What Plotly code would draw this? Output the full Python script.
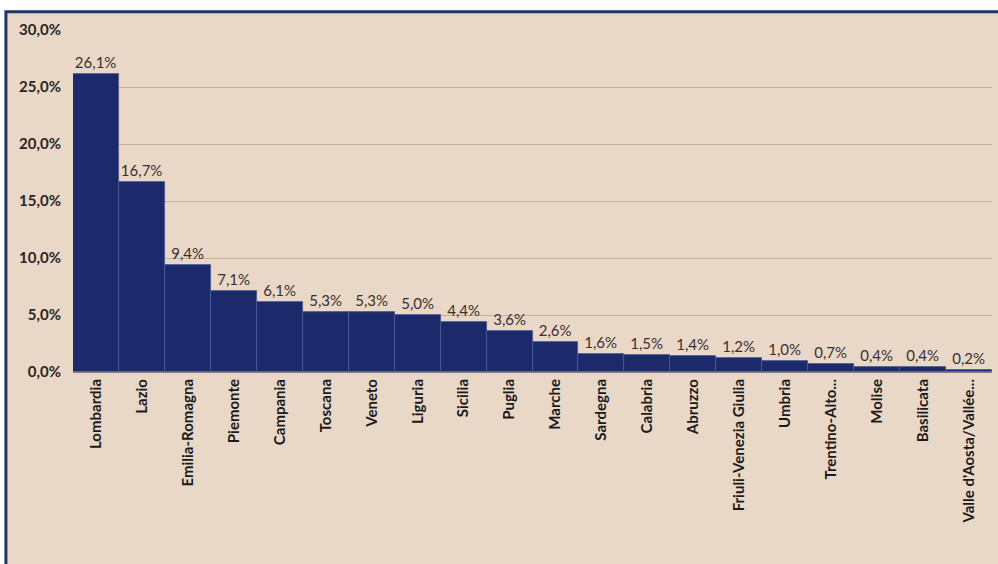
import plotly.graph_objects as go

regions = ["Lombardia", "Lazio", "Emilia-Romagna", "Piemonte", "Campania", "Toscana",
           "Veneto", "Liguria", "Sicilia", "Puglia", "Marche", "Sardegna", "Calabria",
           "Abruzzo", "Friuli-Venezia Giulia", "Umbria", "Trentino-Alto...", "Molise",
           "Basilicata", "Valle d'Aosta/Vallée..."]
shares = [0.261, 0.167, 0.094, 0.071, 0.061, 0.053, 0.053, 0.050, 0.044, 0.036, 0.026,
          0.016, 0.015, 0.014, 0.012, 0.010, 0.007, 0.004, 0.004, 0.002]
y_ticks = [0, 0.05, 0.10, 0.15, 0.20, 0.25, 0.30]

BG = "#e9d7c7"
NAVY = "#1c2a6b"
FONT = "Lato"

fig = go.Figure()
fig.add_trace(go.Bar(
    x=regions, y=shares,
    marker=dict(color=NAVY, line=dict(color="#4a5a9a", width=0.8)),
    texttemplate="%{y:.1%}", textposition="outside", cliponaxis=False,
    textfont=dict(family=FONT, size=15, color="#3b3030"),
))

fig.add_shape(type="rect", xref="paper", yref="paper",
              x0=-0.073, x1=1.01, y0=-0.57, y1=1.053,
              fillcolor=BG, line=dict(color="#1f3566", width=3), layer="below")

fig.update_layout(
    width=998, height=564,
    margin=dict(l=73, r=6, t=30, b=192, autoexpand=False),
    paper_bgcolor="white", plot_bgcolor=BG,
    separators=",.",
    bargap=0,
    showlegend=False,
    font=dict(family=FONT, color="#2a2525"),
    xaxis=dict(tickangle=-90, tickfont=dict(family=FONT, size=15, color="#1a1a1a", weight="bold"),
               showline=True, linecolor="#8a7f78", linewidth=1, ticks="", showgrid=False,
               automargin=False),
    yaxis=dict(range=[0, 0.30], tickvals=y_ticks, tickformat=".1%",
               tickfont=dict(family=FONT, size=15, color="#2a2525", weight="bold"),
               showgrid=True, gridcolor="#c2ae9e", gridwidth=1, zeroline=False,
               ticklabelstandoff=11, automargin=False),
)

fig.write_html("out.html", config={"displayModeBar": False},
               post_script="document.body.style.margin='0';")
